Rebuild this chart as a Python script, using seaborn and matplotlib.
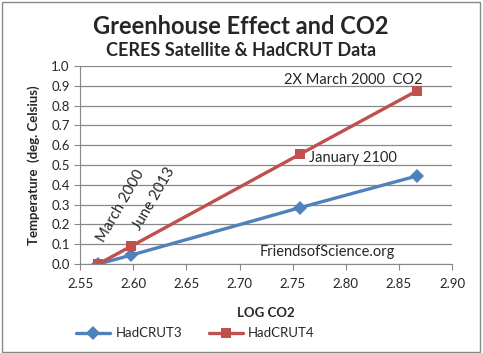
import numpy as np
import pandas as pd
import matplotlib
matplotlib.use("Agg")
import matplotlib.pyplot as plt
import seaborn as sns

log_co2 = [2.567, 2.598, 2.757, 2.867]
hadcrut3 = [0.0, 0.045, 0.285, 0.445]
hadcrut4 = [0.0, 0.09, 0.555, 0.875]
series_names = ["HadCRUT3", "HadCRUT4"]

df = pd.DataFrame({
    "log_co2": log_co2 * 2,
    "temp": hadcrut3 + hadcrut4,
    "series": [series_names[0]] * 4 + [series_names[1]] * 4,
})

sns.set_style("white")
plt.rcParams["font.family"] = ["Lato", "DejaVu Sans"]

fig = plt.figure(figsize=(4.83, 3.53), dpi=100)
ax = fig.add_axes([0.166, 0.252, 0.770, 0.561])

sns.lineplot(data=df, x="log_co2", y="temp", hue="series", style="series",
             markers={"HadCRUT3": "D", "HadCRUT4": "s"}, dashes=False,
             palette={"HadCRUT3": "#4F81BD", "HadCRUT4": "#C0504D"},
             linewidth=2.4, markersize=7, markeredgewidth=0, ax=ax)

ax.set_xlim(2.55, 2.90)
ax.set_ylim(0, 1.0)
ax.set_xticks(np.arange(2.55, 2.901, 0.05))
ax.set_xticklabels([f"{v:.2f}" for v in np.arange(2.55, 2.901, 0.05)])
ax.set_yticks(np.arange(0, 1.01, 0.1))
ax.set_yticklabels([f"{v:.1f}" for v in np.arange(0, 1.01, 0.1)])
ax.tick_params(axis="both", labelsize=9.5, length=4, direction="out", color="#888888")
ax.tick_params(axis="x", bottom=True, pad=6)
ax.tick_params(axis="y", left=True)
ax.yaxis.grid(True, color="#888888", linewidth=0.9)
ax.set_axisbelow(True)
for s in ["top", "right"]:
    ax.spines[s].set_visible(False)
ax.spines["left"].set_color("#888888")
ax.spines["bottom"].set_color("#888888")
ax.set_xlabel("LOG CO2", fontsize=9.5, fontweight="bold", labelpad=12)
ax.set_ylabel("Temperature  (deg. Celsius)", fontsize=9.5, fontweight="bold", labelpad=8)

ax.legend(loc="center", bbox_to_anchor=(0.31, -0.35), ncol=2, frameon=False,
          fontsize=9.5, handlelength=2.6, columnspacing=2.0, handletextpad=0.4)

fig.text(0.498, 0.926, "Greenhouse Effect and CO2", ha="center", va="center",
         fontsize=17, fontweight="bold")
fig.text(0.500, 0.856, "CERES Satellite & HadCRUT Data", ha="center", va="center",
         fontsize=13, fontweight="bold")

ax.text(2.572, 0.105, "March 2000", rotation=60, fontsize=10.8, ha="left", va="baseline",
        rotation_mode="anchor")
ax.text(2.606, 0.165, "June 2013", rotation=60, fontsize=10.8, ha="left", va="baseline",
        rotation_mode="anchor")
ax.text(2.765, 0.535, "January 2100", fontsize=10.5, ha="left", va="center")
ax.text(2.872, 0.93, "2X March 2000  CO2", fontsize=10.5, ha="right", va="center")
ax.text(2.719, 0.06, "FriendsofScience.org", fontsize=10.5, ha="left", va="center")

fig.patches.append(plt.Rectangle((0.004, 0.004), 0.99, 0.99, transform=fig.transFigure,
                                 fill=False, edgecolor="#888888", linewidth=1))

fig.savefig("out.png", dpi=100)
